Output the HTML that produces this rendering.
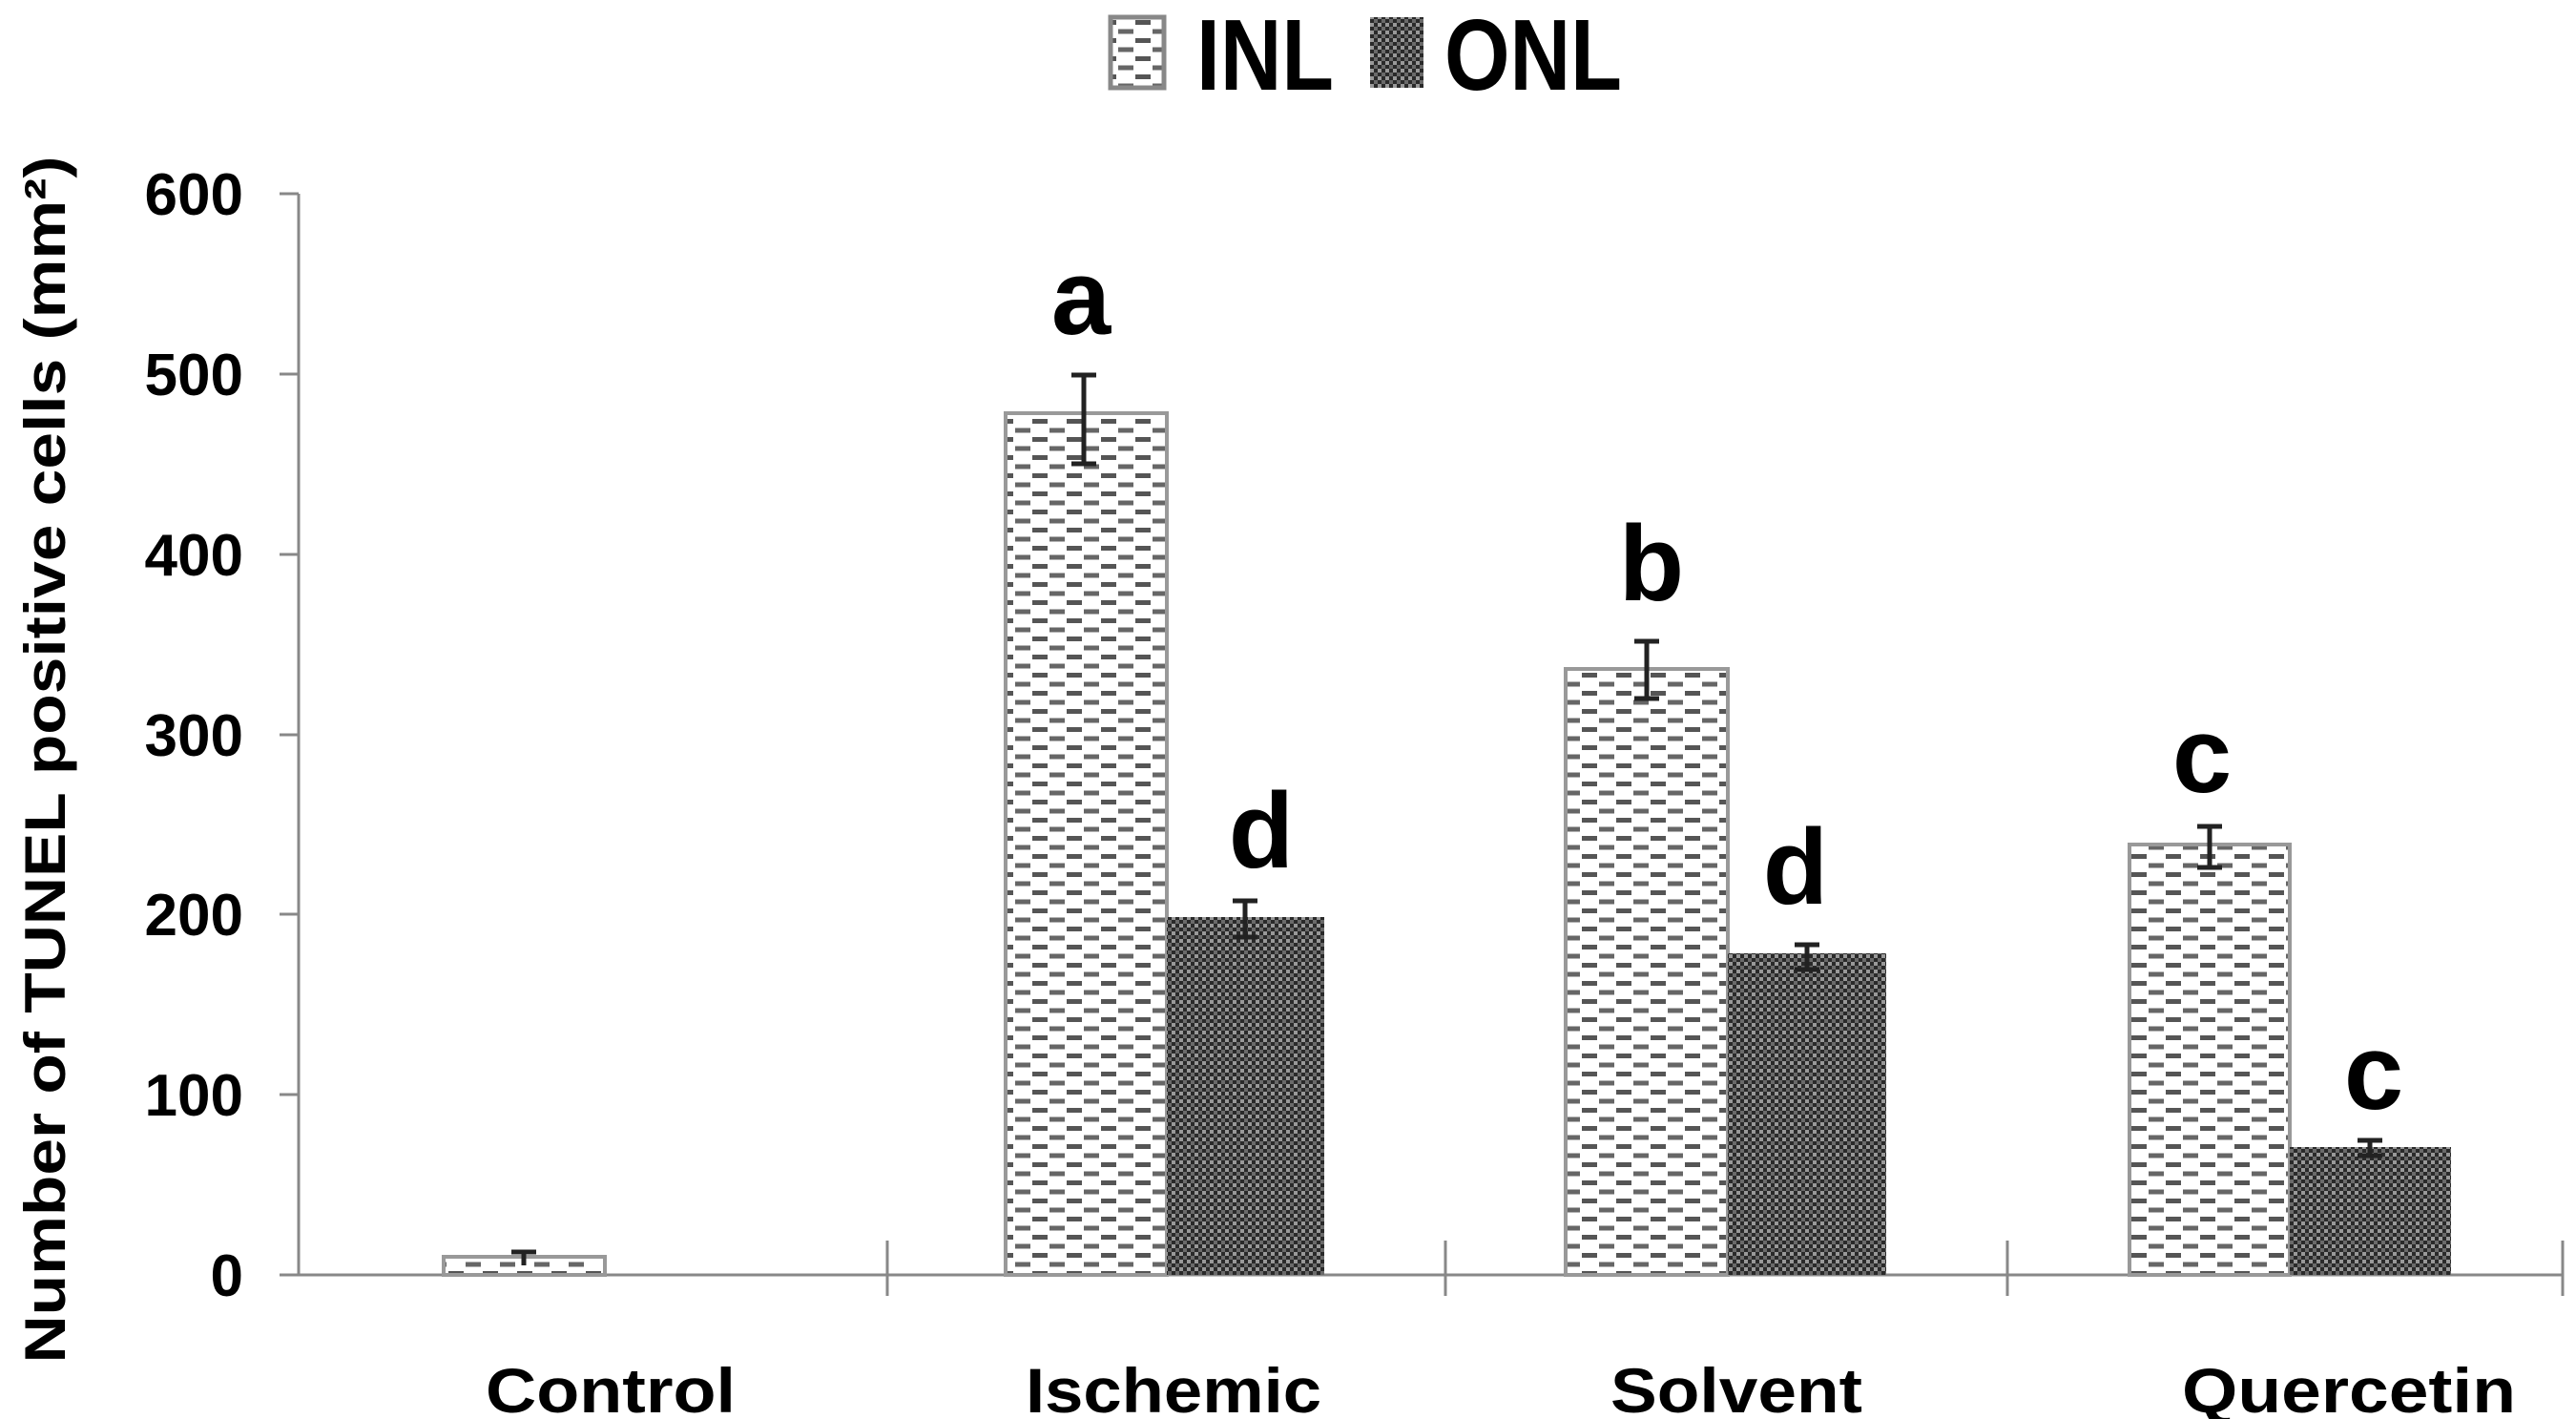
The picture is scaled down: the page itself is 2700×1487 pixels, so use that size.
<!DOCTYPE html>
<html><head><style>body{margin:0;background:#fff}svg{display:block}</style></head><body>
<svg width="2700" height="1487" viewBox="0 0 2700 1487" xmlns="http://www.w3.org/2000/svg" font-family="Liberation Sans, sans-serif" font-weight="bold">
<defs>
<pattern id="inl" width="36" height="19" patternUnits="userSpaceOnUse">
<rect width="36" height="19" fill="#fff"/>
<rect x="2" y="2" width="16" height="5" fill="#555"/>
<rect x="20" y="11.5" width="16" height="5" fill="#666"/>
</pattern>
<pattern id="onl" width="8" height="8" patternUnits="userSpaceOnUse">
<rect width="8" height="8" fill="#6a6a6a"/>
<rect x="0" y="0" width="4" height="4" fill="#2a2a2a"/>
<rect x="4" y="4" width="4" height="4" fill="#2a2a2a"/>
<rect x="4" y="0" width="4" height="4" fill="#999"/>
</pattern>
</defs>
<!-- legend -->
<rect x="1164" y="18" width="56" height="74" fill="url(#inl)" stroke="#888" stroke-width="5"/>
<text x="1254" y="94" font-size="106" textLength="144" lengthAdjust="spacingAndGlyphs">INL</text>
<rect x="1436" y="18" width="56" height="74" fill="url(#onl)"/>
<text x="1514" y="94" font-size="106" textLength="186" lengthAdjust="spacingAndGlyphs">ONL</text>
<!-- axes -->
<g stroke="#888" stroke-width="3">
<line x1="313" y1="203" x2="313" y2="1336"/>
<line x1="313" y1="1336" x2="2686" y2="1336"/>
<line x1="293" y1="203" x2="313" y2="203"/>
<line x1="293" y1="392" x2="313" y2="392"/>
<line x1="293" y1="581" x2="313" y2="581"/>
<line x1="293" y1="770" x2="313" y2="770"/>
<line x1="293" y1="958" x2="313" y2="958"/>
<line x1="293" y1="1147" x2="313" y2="1147"/>
<line x1="293" y1="1336" x2="313" y2="1336"/>
<line x1="930" y1="1300" x2="930" y2="1358"/>
<line x1="1515" y1="1300" x2="1515" y2="1358"/>
<line x1="2104" y1="1300" x2="2104" y2="1358"/>
<line x1="2686" y1="1300" x2="2686" y2="1358"/>
</g>
<g font-size="62" text-anchor="end">
<text x="255" y="225">600</text>
<text x="255" y="414">500</text>
<text x="255" y="603">400</text>
<text x="255" y="792">300</text>
<text x="255" y="980">200</text>
<text x="255" y="1169">100</text>
<text x="255" y="1358">0</text>
</g>
<text transform="translate(68,796) rotate(-90)" font-size="60" textLength="1265" lengthAdjust="spacingAndGlyphs" x="0" y="0" text-anchor="middle">Number of TUNEL positive cells (mm²)</text>
<!-- bars -->
<g stroke="#999" stroke-width="4">
<rect x="465" y="1317" width="169" height="19" fill="url(#inl)"/>
<rect x="1054" y="433" width="169" height="903" fill="url(#inl)"/>
<rect x="1641" y="701" width="170" height="635" fill="url(#inl)"/>
<rect x="2232" y="885" width="168" height="451" fill="url(#inl)"/>
</g>
<rect x="1223" y="961" width="165" height="375" fill="url(#onl)"/>
<rect x="1811" y="999" width="166" height="337" fill="url(#onl)"/>
<rect x="2400" y="1202" width="169" height="134" fill="url(#onl)"/>
<!-- error bars -->
<g stroke="#222" stroke-width="5" fill="none">
<path d="M1136 393V486M1123 393H1149M1123 486H1149"/>
<path d="M1305 944V982M1292 944H1318M1292 982H1318"/>
<path d="M1726 672V732M1713 672H1739M1713 732H1739"/>
<path d="M1894 990V1016M1881 990H1907M1881 1016H1907"/>
<path d="M2316 866V909M2303 866H2329M2303 909H2329"/>
<path d="M2484 1195V1211M2471 1195H2497M2471 1211H2497"/>
<path d="M549 1312V1326M536 1312H562"/>
</g>
<!-- letters -->
<g font-size="112" text-anchor="middle">
<text x="1133" y="350">a</text>
<text x="1322" y="909">d</text>
<text x="1731" y="629">b</text>
<text x="1882" y="947">d</text>
<text x="2308" y="830">c</text>
<text x="2488" y="1162">c</text>
</g>
<g font-size="66" text-anchor="middle">
<text x="640" y="1480" textLength="262" lengthAdjust="spacingAndGlyphs">Control</text>
<text x="1230" y="1480" textLength="310" lengthAdjust="spacingAndGlyphs">Ischemic</text>
<text x="1820" y="1480" textLength="264" lengthAdjust="spacingAndGlyphs">Solvent</text>
<text x="2462" y="1480" textLength="350" lengthAdjust="spacingAndGlyphs">Quercetin</text>
</g>
</svg>
</body></html>
